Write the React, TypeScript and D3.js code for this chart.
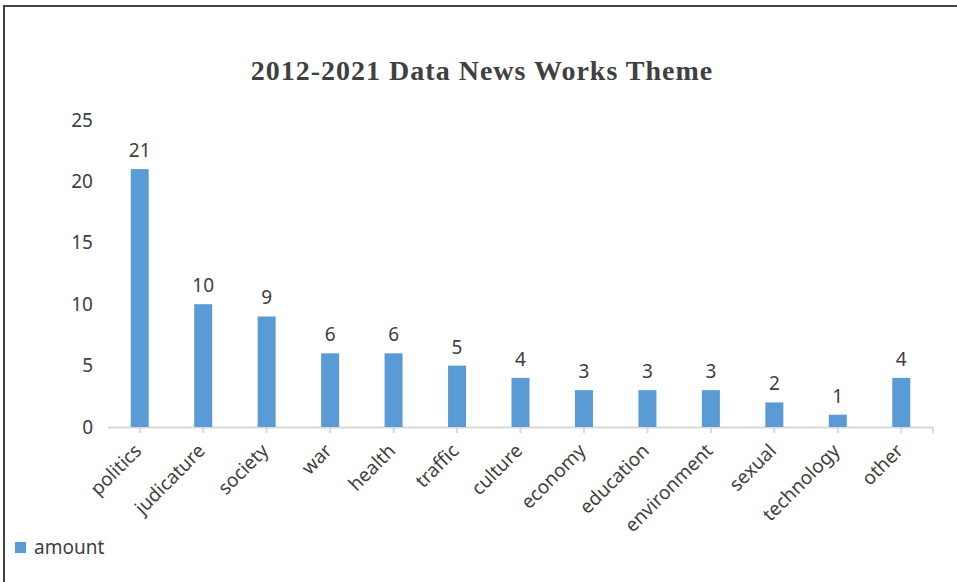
import React from "react";
import * as d3 from "d3";

const categories = ["politics", "judicature", "society", "war", "health", "traffic", "culture", "economy", "education", "environment", "sexual", "technology", "other"];
const amounts = [21, 10, 9, 6, 6, 5, 4, 3, 3, 3, 2, 1, 4];
const yTicks = [0, 5, 10, 15, 20, 25];
const title = "2012-2021 Data News Works Theme";
const seriesName = "amount";

const W = 957, H = 582;
const left = 108, right = 933, top = 120, bottom = 427;
const barColor = "#5B9BD5";
const textColor = "#404040";
const font = "'Noto Sans', 'Open Sans', sans-serif";
const fs = 19;

export default function App() {
  const x = d3.scaleBand<string>().domain(categories).range([left, right]).paddingInner(0).paddingOuter(0);
  const y = d3.scaleLinear().domain([0, 25]).range([bottom, top]);
  const bw = 18;
  return (
    <svg width={W} height={H} style={{ position: "absolute", left: 0, top: 0, background: "#fff" }}>
      <rect x={0} y={0} width={W} height={H} fill="#fff" />
      <line x1={4} y1={6} x2={W} y2={6} stroke="#444" strokeWidth={2} />
      <line x1={4} y1={5} x2={4} y2={H} stroke="#444" strokeWidth={2} />
      <text x={482} y={80} textAnchor="middle" fontFamily="'Liberation Serif', 'Times New Roman', serif" fontWeight="bold" fontSize={28} letterSpacing={1} fill={textColor}>{title}</text>
      {yTicks.map((t) => (
        <text key={t} x={93} y={y(t)} dy="0.35em" textAnchor="end" fontFamily={font} fontSize={fs} fill={textColor}>{t}</text>
      ))}
      <line x1={left} y1={bottom + 0.5} x2={right} y2={bottom + 0.5} stroke="#d9d9d9" strokeWidth={2} />
      {categories.map((c) => {
        const cx = (x(c) as number) + x.bandwidth() / 2;
        return <line key={"t" + c} x1={cx} y1={bottom} x2={cx} y2={bottom + 6} stroke="#d9d9d9" strokeWidth={2} />;
      })}
      <line x1={right} y1={bottom} x2={right} y2={bottom + 6} stroke="#d9d9d9" strokeWidth={2} />
      {categories.map((c, i) => {
        const cx = (x(c) as number) + x.bandwidth() / 2;
        return (
          <g key={c}>
            <rect x={cx - bw / 2} y={y(amounts[i])} width={bw} height={bottom - y(amounts[i])} fill={barColor} />
            <text x={cx} y={y(amounts[i]) - 12} textAnchor="middle" fontFamily={font} fontSize={fs} fill={textColor}>{amounts[i]}</text>
            <text transform={`translate(${cx + 3},${bottom + 25}) rotate(-45)`} textAnchor="end" fontFamily={font} fontSize={fs} fill={textColor}>{c}</text>
          </g>
        );
      })}
      <rect x={15} y={542} width={11} height={11} fill={barColor} />
      <text x={34} y={554} fontFamily={font} fontSize={fs} fill={textColor}>{seriesName}</text>
    </svg>
  );
}
